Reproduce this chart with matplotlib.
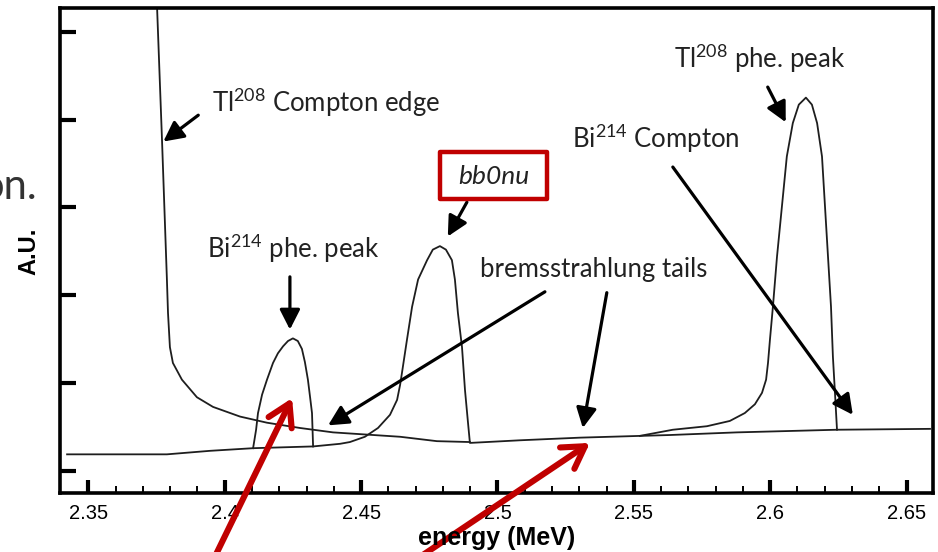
import matplotlib
matplotlib.use("Agg")
import matplotlib.pyplot as plt
from matplotlib.patches import Rectangle

# ── fonts ─────────────────────────────────────────────────────────────────────
plt.rcParams["font.family"] = ["Lato", "DejaVu Sans"]
plt.rcParams["mathtext.fontset"] = "custom"
plt.rcParams["mathtext.rm"] = "Lato"
plt.rcParams["mathtext.it"] = "Lato:italic"
plt.rcParams["mathtext.default"] = "regular"

# ── curves (energy in MeV, arbitrary units) ──────────────────────────────────
# Tl208 Compton edge (comes down from above the frame)
compton_E = [2.3741, 2.3752, 2.3770, 2.3788, 2.3792, 2.3799, 2.3810, 2.3843,
             2.3898, 2.3957, 2.4056, 2.4155, 2.4276, 2.4397, 2.4643, 2.4778, 2.4899]
compton_y = [5.82, 5.27, 3.77, 2.18, 1.80, 1.41, 1.23, 1.04,
             0.84, 0.73, 0.62, 0.55, 0.49, 0.44, 0.39, 0.34, 0.33]

# bremsstrahlung baseline with the bb0nu peak on it
main_E = [2.3422, 2.3788, 2.3946, 2.4104, 2.4324, 2.4423, 2.4459, 2.4514, 2.4562,
          2.4606, 2.4632, 2.4643, 2.4650, 2.4668, 2.4687, 2.4709, 2.4742, 2.4763,
          2.4789, 2.4811, 2.4833, 2.4844, 2.4855, 2.4870, 2.4881, 2.4892, 2.4899,
          2.5083, 2.5303, 2.5633, 2.5878, 2.6245, 2.6586]
main_y = [0.19, 0.19, 0.23, 0.26, 0.28, 0.31, 0.33, 0.39, 0.49,
          0.64, 0.81, 0.98, 1.12, 1.49, 1.87, 2.18, 2.40, 2.52,
          2.56, 2.52, 2.40, 2.18, 1.80, 1.41, 0.92, 0.55, 0.32,
          0.35, 0.38, 0.41, 0.44, 0.47, 0.48]

# Bi214 photo peak
bi_E = [2.4104, 2.4115, 2.4122, 2.4137, 2.4155, 2.4177, 2.4195, 2.4214, 2.4232,
        2.4250, 2.4268, 2.4283, 2.4294, 2.4305, 2.4313, 2.4320, 2.4324]
bi_y = [0.26, 0.47, 0.66, 0.87, 1.04, 1.23, 1.34, 1.42, 1.48,
        1.51, 1.48, 1.39, 1.24, 1.04, 0.84, 0.66, 0.28]

# Tl208 photo peak
tl_E = [2.5522, 2.5643, 2.5768, 2.5852, 2.5907, 2.5944, 2.5970, 2.5985, 2.5992,
        2.5999, 2.6010, 2.6025, 2.6043, 2.6061, 2.6083, 2.6105, 2.6131, 2.6153,
        2.6172, 2.6190, 2.6201, 2.6212, 2.6223, 2.6230, 2.6237, 2.6245]
tl_y = [0.40, 0.47, 0.51, 0.57, 0.66, 0.76, 0.89, 1.04, 1.23,
        1.49, 1.87, 2.44, 3.01, 3.58, 3.96, 4.17, 4.25, 4.17,
        3.96, 3.58, 3.01, 2.44, 1.87, 1.30, 0.92, 0.47]

x_ticks = [2.35, 2.40, 2.45, 2.50, 2.55, 2.60, 2.65]
x_tick_labels = ["2.35", "2.4", "2.45", "2.5", "2.55", "2.6", "2.65"]
y_ticks = [0, 1, 2, 3, 4, 5]

RED = "#c00000"
INK = "#1e1e1e"

# ── figure ────────────────────────────────────────────────────────────────────
fig = plt.figure(figsize=(9.38, 5.52), dpi=100)
ax = fig.add_axes([60 / 938, 1 - 493 / 552, 873 / 938, 485 / 552])

for E, y in ((compton_E, compton_y), (main_E, main_y), (bi_E, bi_y), (tl_E, tl_y)):
    ax.plot(E, y, color=INK, lw=1.3, solid_joinstyle="round")

ax.set_xlim(2.3396, 2.6597)
ax.set_ylim(-0.25, 5.27)

for s in ax.spines.values():
    s.set_linewidth(2.6)

ax.set_xticks(x_ticks)
ax.set_xticklabels(x_tick_labels, family="Liberation Sans", fontsize=14.5)
ax.set_xticks([2.35 + 0.01 * i for i in range(31)], minor=True)
ax.set_yticks(y_ticks)
ax.set_yticklabels([])
ax.tick_params(axis="x", which="major", direction="in", length=9.5, width=3, pad=8)
ax.tick_params(axis="x", which="minor", direction="in", length=5, width=1.4)
ax.tick_params(axis="y", which="major", direction="in", length=11.5, width=3)

fig.text(497 / 938, 1 - 545 / 552, "energy (MeV)", ha="center", va="baseline",
         family="Liberation Sans", fontweight="bold", fontsize=18)
fig.text(29 / 938, 1 - 251 / 552, "A.U.", ha="center", va="center", rotation=90,
         family="Liberation Sans", fontweight="bold", fontsize=17)
# fragment of the slide text cut off at the left edge
fig.text(37 / 938, 1 - 199 / 552, "on.", ha="right", va="baseline",
         fontsize=30, color="#333333")

# ── annotations ──────────────────────────────────────────────────────────────
TXT = dict(fontsize=18.5, color="#222222", ha="left", va="baseline")
ax.text(2.3954, 4.09, "Tl$^{208}$ Compton edge", **TXT)
ax.text(2.3935, 2.43, "Bi$^{214}$ phe. peak", **TXT)
ax.text(2.4936, 2.21, "bremsstrahlung tails", **TXT)
ax.text(2.5273, 3.68, "Bi$^{214}$ Compton", **TXT)
ax.text(2.5647, 4.59, "Tl$^{208}$ phe. peak", **TXT)
ax.text(2.4985, 3.27, "bb0nu", fontsize=19, style="italic", color="#222222",
        ha="center", va="baseline")
ax.add_patch(Rectangle((2.4789, 3.10), 0.0392, 0.53, fill=False, ec=RED, lw=3.2,
                       joinstyle="round", clip_on=False, zorder=5))

ARW = dict(arrowstyle="-|>,head_length=0.55,head_width=0.28", mutation_scale=22,
           color="black", lw=2.3, shrinkA=0, shrinkB=0)
arrows = [((2.3903, 4.05), (2.3775, 3.75)),
          ((2.4888, 3.06), (2.4818, 2.67)),
          ((2.4239, 2.21), (2.4239, 1.61)),
          ((2.5174, 2.04), (2.4379, 0.52)),
          ((2.5401, 2.03), (2.5313, 0.49)),
          ((2.5643, 3.46), (2.6303, 0.64)),
          ((2.5991, 4.37), (2.6057, 3.97))]
for tail, head in arrows:
    ax.annotate("", xy=head, xytext=tail, arrowprops=ARW)

# red pointers coming in from below the figure
RARW = dict(arrowstyle="->,head_length=0.7,head_width=0.42", mutation_scale=22,
            color=RED, lw=4.4, shrinkA=0, shrinkB=0)
ax.annotate("", xy=(2.4247, 0.83), xytext=(206, -23), textcoords="figure pixels",
            arrowprops=RARW, annotation_clip=False, zorder=10)
ax.annotate("", xy=(2.5339, 0.32), xytext=(393, -23), textcoords="figure pixels",
            arrowprops=RARW, annotation_clip=False, zorder=10)

fig.savefig("out.png", dpi=100)
